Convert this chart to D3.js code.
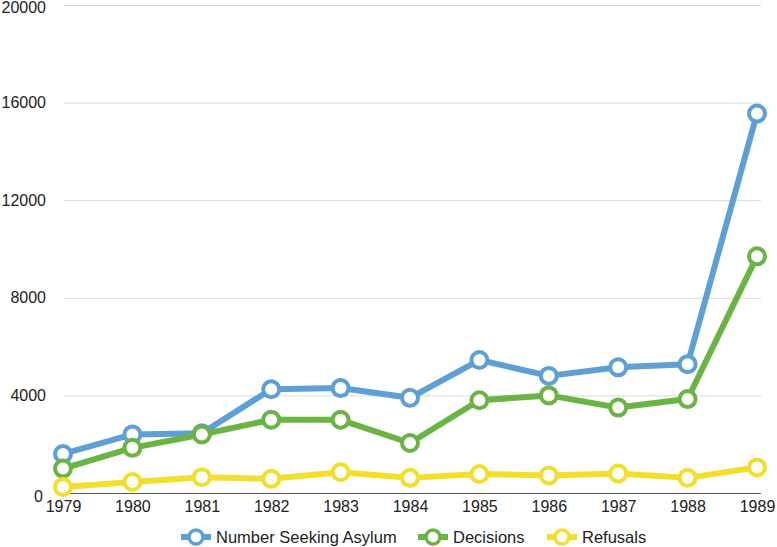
<!DOCTYPE html>
<html>
<head>
<meta charset="utf-8">
<script src="https://cdn.jsdelivr.net/npm/d3@7"></script>
<style>
 body { margin: 0; background: #fff; }
 svg { display: block; font-family: 'Liberation Sans', Arial, sans-serif; }
</style>
</head>
<body>
<svg></svg>
<script>
// Chart data.

var years = ['1979','1980','1981','1982','1983','1984','1985','1986','1987','1988','1989'];
var asylum = [1600, 2400, 2450, 4250, 4300, 3900, 5450, 4800, 5150, 5280, 15550];
var decisions = [1000, 1850, 2400, 3000, 3000, 2050, 3800, 4000, 3500, 3850, 9700];
var refusals = [250, 450, 650, 580, 850, 620, 780, 720, 800, 620, 1050];
var yTicks = [0, 4000, 8000, 12000, 16000, 20000];
var seriesNames = ['Number Seeking Asylum', 'Decisions', 'Refusals'];
var seriesColors = ['#5e9fd6', '#6ab443', '#f2de2c'];

var series = [asylum, decisions, refusals].map(function(vals, i) {
 return { name: seriesNames[i], color: seriesColors[i], values: vals };
});

// Basic svg setup.

var svg = d3.select('svg').attr('width', 777).attr('height', 547);
var margin = {top: 5, right: 20, bottom: 54, left: 63};
var width = 757 - margin.left;
var height = 493 - margin.top;
var g = svg.append('g').attr('transform', 'translate(' + margin.left + ',' + margin.top + ')');

var x = d3.scalePoint().domain(years).range([0, width]);
var y = d3.scaleLinear().domain([0, 20000]).range([height, 0]);

// Gridlines and y labels.

g.append('g')
 .call(d3.axisLeft(y).tickValues(yTicks).tickSize(-width - 3).tickFormat(''))
 .call(function(a) {
  a.select('.domain').remove();
  a.selectAll('.tick line').attr('stroke', '#d9d9d9').attr('stroke-width', 1).attr('transform', 'translate(1,0)');
  a.selectAll('.tick').filter(function(d) { return d === 0; }).select('line').attr('stroke', '#555');
 });

g.selectAll('.ylab')
 .data(yTicks)
 .enter().append('text')
 .attr('class', 'ylab')
 .attr('x', function(d) { return d === 0 ? -20 : -17; })
 .attr('y', function(d) { return d === 0 ? y(d) + 3 : Math.max(y(d), 2); })
 .attr('dy', '0.35em')
 .attr('text-anchor', 'end')
 .attr('font-size', 16)
 .attr('fill', '#222')
 .text(function(d) { return d; });

// X axis labels.

g.append('g')
 .attr('transform', 'translate(0,' + height + ')')
 .call(d3.axisBottom(x).tickSize(0).tickPadding(8))
 .call(function(a) {
  a.select('.domain').remove();
  a.selectAll('text').attr('font-size', 16).attr('fill', '#222').attr('font-family', "'Liberation Sans', Arial, sans-serif");
 });

// Lines and markers.

var line = d3.line()
 .x(function(d, i) { return x(years[i]); })
 .y(function(d) { return y(d); });

series.forEach(function(s) {
 g.append('path')
  .datum(s.values)
  .attr('fill', 'none')
  .attr('stroke', s.color)
  .attr('stroke-width', 6)
  .attr('stroke-linejoin', 'round')
  .attr('d', line);
 g.selectAll(null)
  .data(s.values)
  .enter().append('circle')
  .attr('cx', function(d, i) { return x(years[i]); })
  .attr('cy', function(d) { return y(d); })
  .attr('r', 8)
  .attr('fill', '#fff')
  .attr('stroke', s.color)
  .attr('stroke-width', 4);
});

// Legend.

var legendX = [181, 418, 547];
var legend = svg.append('g').attr('transform', 'translate(0,537)');
series.forEach(function(s, i) {
 var lg = legend.append('g').attr('transform', 'translate(' + legendX[i] + ',0)');
 lg.append('line').attr('x1', 0).attr('x2', 30).attr('stroke', s.color).attr('stroke-width', 6);
 lg.append('circle').attr('cx', 15).attr('r', 7).attr('fill', '#fff').attr('stroke', s.color).attr('stroke-width', 3.5);
 lg.append('text')
  .attr('x', 35)
  .attr('dy', '0.35em')
  .attr('font-size', 16.5)
  .attr('fill', '#222')
  .text(s.name);
});
</script>
</body>
</html>
